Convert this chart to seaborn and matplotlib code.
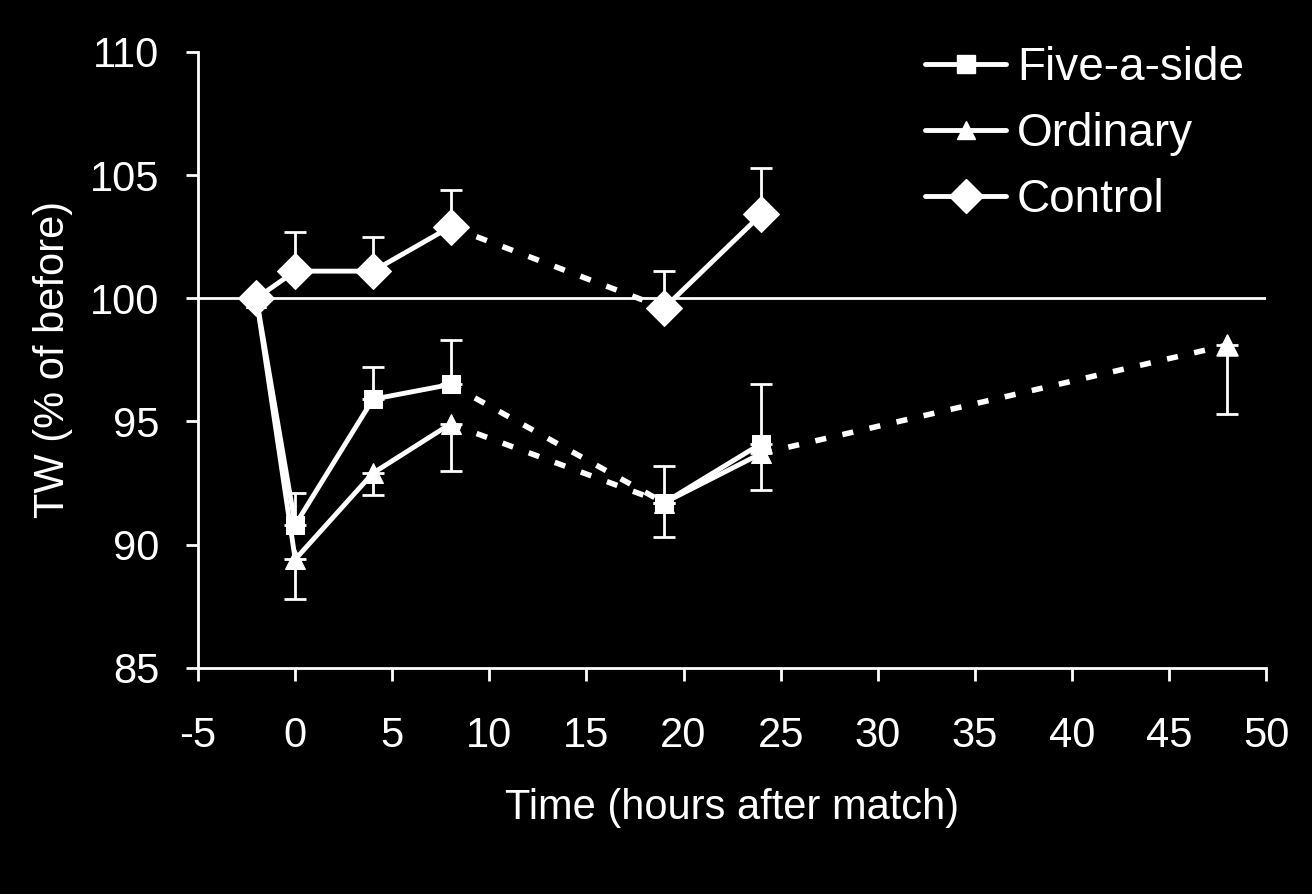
import numpy as np
import pandas as pd
import seaborn as sns
import matplotlib
matplotlib.use("Agg")
import matplotlib.pyplot as plt
from matplotlib.lines import Line2D

# 데이터
time = [-2, 0, 4, 8, 19, 24, 48]
five = [100, 90.8, 95.9, 96.5, 91.7, 94.1, np.nan]
five_err = [0, 1.3, 1.3, 1.8, 1.5, 2.4, np.nan]
ordinary = [100, 89.4, 92.9, 94.9, 91.7, 93.7, 98.1]
ordinary_err = [0, 1.6, 0.9, 1.9, 1.4, 1.5, 2.8]
control = [100, 101.1, 101.1, 102.9, 99.6, 103.4, np.nan]
control_err = [0, 1.6, 1.4, 1.5, 1.5, 1.9, np.nan]

groups = ["Five-a-side", "Ordinary", "Control"]
markers = {"Five-a-side": "s", "Ordinary": "^", "Control": "D"}
msizes = {"Five-a-side": 13, "Ordinary": 15, "Control": 18}

df = pd.DataFrame({"time": time * 3,
                   "tw": five + ordinary + control,
                   "err": five_err + ordinary_err + control_err,
                   "group": np.repeat(groups, len(time))})
# 오차막대 방향: 위(+1) / 아래(-1)
direction = {"Five-a-side": 1, "Ordinary": -1, "Control": 1}

sns.set_theme(style="white", rc={
    "figure.facecolor": "black", "axes.facecolor": "black",
    "axes.edgecolor": "white", "text.color": "white",
    "axes.labelcolor": "white", "xtick.color": "white", "ytick.color": "white",
    "axes.unicode_minus": False,
})
plt.rcParams["font.family"] = ["Liberation Sans", "DejaVu Sans"]

fig, ax = plt.subplots(figsize=(13.12, 8.94), dpi=100)
fig.subplots_adjust(left=0.151, right=0.965, top=0.942, bottom=0.253)

# 100% 기준선
ax.axhline(100, color="white", lw=2, zorder=1)

for g in groups:
    d = df[df["group"] == g].dropna(subset=["tw"])
    early = d[d["time"] <= 8]
    late = d[(d["time"] >= 19) & (d["time"] <= 24)]
    gap = d[d["time"].isin([8, 19])]
    tail = d[d["time"] >= 24]
    # 실선 구간
    for seg in (early, late):
        sns.lineplot(data=seg, x="time", y="tw", color="white", lw=3.5,
                     marker=markers[g], markersize=msizes[g], markeredgecolor="white",
                     ax=ax, zorder=3, legend=False)
    # 점선 구간
    sns.lineplot(data=gap, x="time", y="tw", color="white", lw=4,
                 linestyle=(0, (2, 3)), ax=ax, zorder=2, legend=False)
    if len(tail) > 1:
        sns.lineplot(data=tail, x="time", y="tw", color="white", lw=4,
                     linestyle=(0, (2, 3)), ax=ax, zorder=2, legend=False)
        sns.scatterplot(data=tail.iloc[1:], x="time", y="tw", color="white",
                        marker=markers[g], s=msizes[g] ** 2, ax=ax, zorder=3,
                        legend=False, edgecolor="white")
    # 한쪽 방향 오차막대
    e = d[d["err"] > 0]
    if direction[g] > 0:
        yerr = [np.zeros(len(e)), e["err"].values]
    else:
        yerr = [e["err"].values, np.zeros(len(e))]
    ax.errorbar(e["time"], e["tw"], yerr=yerr, fmt="none", ecolor="white",
                elinewidth=2, capsize=8, capthick=2, zorder=2)

# 범례
leg_sizes = {"Five-a-side": 13, "Ordinary": 13, "Control": 17}
handles = [Line2D([], [], color="white", lw=3.5, marker=markers[g],
                  markersize=leg_sizes[g], markeredgecolor="white") for g in groups]
ax.legend(handles, groups, loc="upper left", frameon=False, fontsize=33,
          handlelength=1.75, labelspacing=0.48, handletextpad=0.25,
          borderpad=0, borderaxespad=0, bbox_to_anchor=(0.681, 1.009))

ax.set_xlim(-5, 50)
ax.set_ylim(85, 110)
ax.set_xticks(np.arange(-5, 51, 5))
ax.set_yticks(np.arange(85, 111, 5))
ax.tick_params(axis="both", labelsize=30, length=9, width=2, direction="out",
               bottom=True, left=True)
ax.tick_params(axis="x", pad=26)
ax.tick_params(axis="y", pad=19)
for s in ["top", "right"]:
    ax.spines[s].set_visible(False)
for s in ["left", "bottom"]:
    ax.spines[s].set_linewidth(2)

ax.set_xlabel("Time (hours after match)", fontsize=30, labelpad=23)
ax.set_ylabel("TW (% of before)", fontsize=30, labelpad=12)

fig.savefig("out.png", dpi=100, facecolor="black")
